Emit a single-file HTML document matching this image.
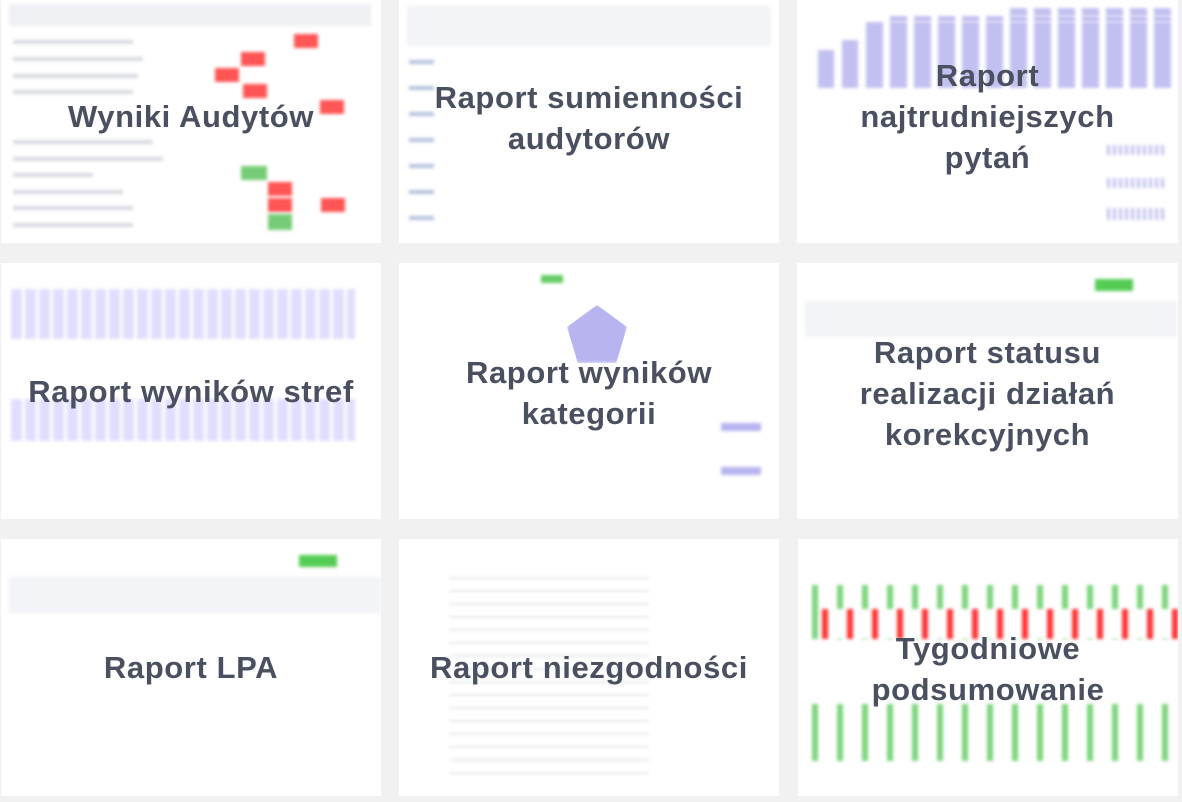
<!DOCTYPE html>
<html><head><meta charset="utf-8"><style>
body{margin:0;width:1182px;height:802px;background:#f1f1f1;position:relative;overflow:hidden;font-family:"Liberation Sans",sans-serif}
.c{position:absolute;background:#fff;overflow:hidden}
.t{position:absolute;left:-20px;right:-20px;text-align:center;color:#4b5060;font-weight:bold;font-size:31px;letter-spacing:0.6px;line-height:41px;z-index:2}
.b{position:absolute;filter:blur(1.5px)}
.tx{position:absolute;height:4px;background:#d6d9df;filter:blur(1.5px)}
</style></head><body>
<div class="c" style="left:1px;top:0;width:380px;height:243px">
 <div class="b" style="left:8px;top:4px;width:362px;height:22px;background:#eef0f3"></div>
 <div class="tx" style="left:12px;top:40px;width:120px"></div><div class="tx" style="left:12px;top:57px;width:130px"></div><div class="tx" style="left:12px;top:74px;width:125px"></div><div class="tx" style="left:12px;top:90px;width:120px"></div><div class="tx" style="left:12px;top:140px;width:140px"></div><div class="tx" style="left:12px;top:157px;width:150px"></div><div class="tx" style="left:12px;top:173px;width:80px"></div><div class="tx" style="left:12px;top:190px;width:110px"></div><div class="tx" style="left:12px;top:206px;width:120px"></div><div class="tx" style="left:12px;top:223px;width:120px"></div>
 <div class="b" style="left:293px;top:34px;width:24px;height:14px;background:#f55"></div>
 <div class="b" style="left:240px;top:52px;width:24px;height:14px;background:#f55"></div>
 <div class="b" style="left:214px;top:68px;width:24px;height:14px;background:#f55"></div>
 <div class="b" style="left:242px;top:84px;width:24px;height:14px;background:#f55"></div>
 <div class="b" style="left:319px;top:100px;width:24px;height:14px;background:#f55"></div>
 <div class="b" style="left:240px;top:166px;width:26px;height:14px;background:#7c7"></div>
 <div class="b" style="left:267px;top:182px;width:24px;height:14px;background:#f55"></div>
 <div class="b" style="left:267px;top:198px;width:24px;height:14px;background:#f55"></div>
 <div class="b" style="left:320px;top:198px;width:24px;height:14px;background:#f55"></div>
 <div class="b" style="left:267px;top:214px;width:24px;height:16px;background:#7c7"></div>
 <div class="t" style="top:96px">Wyniki Audytów</div>
</div>
<div class="c" style="left:399px;top:0;width:380px;height:243px">
 <div class="b" style="left:8px;top:6px;width:364px;height:40px;background:#f2f4f7"></div>
 <div class="tx" style="left:10px;top:60px;width:25px;background:#b4c1dd"></div><div class="tx" style="left:10px;top:86px;width:25px;background:#b4c1dd"></div><div class="tx" style="left:10px;top:112px;width:25px;background:#b4c1dd"></div><div class="tx" style="left:10px;top:138px;width:25px;background:#b4c1dd"></div><div class="tx" style="left:10px;top:164px;width:25px;background:#b4c1dd"></div><div class="tx" style="left:10px;top:190px;width:25px;background:#b4c1dd"></div><div class="tx" style="left:10px;top:216px;width:25px;background:#b4c1dd"></div>
 <div class="t" style="top:77px">Raport sumienności<br>audytorów</div>
</div>
<div class="c" style="left:797px;top:0;width:381px;height:243px">
 <div class="b" style="left:21px;top:50px;width:16px;height:38px;background:#c2c0f0"></div>
 <div class="b" style="left:45px;top:40px;width:16px;height:48px;background:#c2c0f0"></div>
 <div class="b" style="left:69px;top:22px;width:312px;height:66px;background:repeating-linear-gradient(90deg,#c2c0f0 0 17px,#fff 17px 24px)"></div>
 <div class="b" style="left:93px;top:16px;width:288px;height:6px;background:repeating-linear-gradient(90deg,#c2c0f0 0 17px,#fff 17px 24px)"></div>
 <div class="b" style="left:213px;top:8px;width:168px;height:8px;background:repeating-linear-gradient(90deg,#c2c0f0 0 17px,#fff 17px 24px)"></div>
 <div class="b" style="left:310px;top:145px;width:60px;height:10px;background:repeating-linear-gradient(90deg,#c2c0f0 0 3px,#fff 3px 6px)"></div>
 <div class="b" style="left:310px;top:178px;width:60px;height:10px;background:repeating-linear-gradient(90deg,#c2c0f0 0 3px,#fff 3px 6px)"></div>
 <div class="b" style="left:310px;top:208px;width:60px;height:12px;background:repeating-linear-gradient(90deg,#c2c0f0 0 3px,#fff 3px 6px)"></div>
 <div class="t" style="top:55px">Raport<br>najtrudniejszych<br>pytań</div>
</div>
<div class="c" style="left:1px;top:263px;width:380px;height:256px">
 <div class="b" style="left:10px;top:26px;width:344px;height:50px;background:repeating-linear-gradient(90deg,#e0defe 0 11px,#fff 11px 14px)"></div>
 <div class="b" style="left:10px;top:136px;width:344px;height:42px;background:repeating-linear-gradient(90deg,#e0defe 0 11px,#fff 11px 14px)"></div>
 <div class="t" style="top:108px">Raport wyników stref</div>
</div>
<div class="c" style="left:399px;top:263px;width:380px;height:256px">
 <div class="b" style="left:142px;top:12px;width:22px;height:8px;background:#6c6"></div>
 <div class="b" style="left:168px;top:42px;width:60px;height:58px;background:#b8b4f0;clip-path:polygon(50% 0,100% 38%,82% 100%,18% 100%,0 38%)"></div>
 <div class="b" style="left:322px;top:140px;width:40px;height:100px;background:repeating-linear-gradient(180deg,#fff 0 20px,#b8b4f0 20px 28px,#fff 28px 44px)"></div>
 <div class="t" style="top:89px">Raport wyników<br>kategorii</div>
</div>
<div class="c" style="left:797px;top:263px;width:381px;height:256px">
 <div class="b" style="left:298px;top:16px;width:38px;height:12px;background:#5c5"></div>
 <div class="b" style="left:8px;top:38px;width:372px;height:36px;background:#f2f4f7"></div>
 <div class="t" style="top:69px">Raport statusu<br>realizacji działań<br>korekcyjnych</div>
</div>
<div class="c" style="left:1px;top:539px;width:380px;height:257px">
 <div class="b" style="left:298px;top:16px;width:38px;height:12px;background:#5c5"></div>
 <div class="b" style="left:8px;top:38px;width:372px;height:36px;background:#f2f4f7"></div>
 <div class="t" style="top:108px">Raport LPA</div>
</div>
<div class="c" style="left:399px;top:539px;width:380px;height:257px">
 <div class="b" style="left:50px;top:38px;width:200px;height:200px;background:repeating-linear-gradient(180deg,#e6e8ec 0 2px,#fff 2px 13px)"></div>
 <div class="t" style="top:108px">Raport niezgodności</div>
</div>
<div class="c" style="left:798px;top:539px;width:380px;height:257px">
 <div class="b" style="left:14px;top:46px;width:366px;height:54px;background:repeating-linear-gradient(90deg,#7dd57d 0 6px,#fff 6px 10px,#fff 10px 25px)"></div>
 <div class="b" style="left:24px;top:70px;width:356px;height:30px;background:repeating-linear-gradient(90deg,#f33 0 6px,#fff 6px 25px)"></div>
 <div class="b" style="left:14px;top:165px;width:366px;height:57px;background:repeating-linear-gradient(90deg,#7dd57d 0 6px,#fff 6px 25px)"></div>
 <div class="t" style="top:89px">Tygodniowe<br>podsumowanie</div>
</div>
</body></html>
